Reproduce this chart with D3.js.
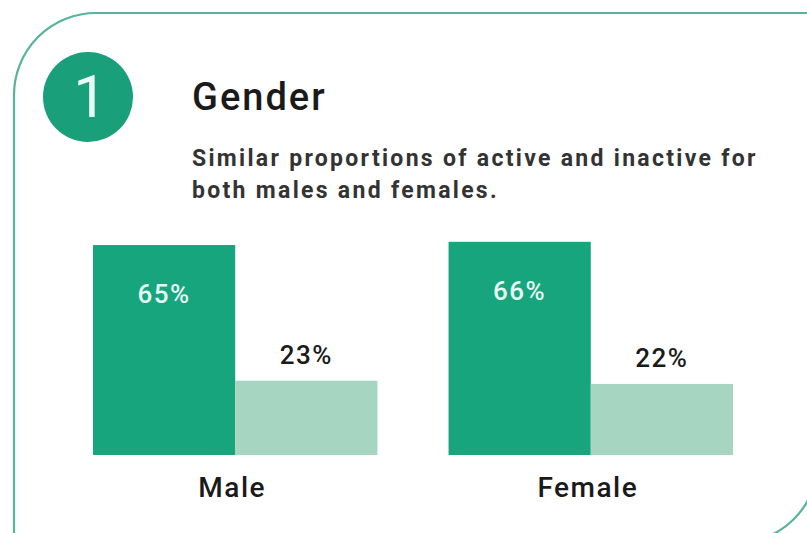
<!DOCTYPE html>
<meta charset="utf-8">
<style>
  body { margin: 0; background: #fff; }
  text { font-family: Roboto, "Noto Sans", sans-serif; }
</style>
<svg width="807" height="533"></svg>
<script src="https://d3js.org/d3.v7.min.js"></script>
<script>

var width = 807,
    height = 533;

var categories = ["Male", "Female"],
    series = ["Active", "Inactive"],
    active = [65, 66],
    inactive = [23, 22];

var svg = d3.select("svg");

// card outline: rounded top-left and bottom-right corners
var r = 82, x0 = 14, y0 = 13, x1 = 818, y1 = 543;
svg.append("path")
    .attr("d", "M" + (x0 + r) + "," + y0 + "H" + x1 + "V" + (y1 - r) +
      "A" + r + "," + r + " 0 0 1 " + (x1 - r) + "," + y1 + "H" + x0 +
      "V" + (y0 + r) + "A" + r + "," + r + " 0 0 1 " + (x0 + r) + "," + y0 + "Z")
    .attr("fill", "none")
    .attr("stroke", "#55b49a")
    .attr("stroke-width", 2.2);

svg.append("circle")
    .attr("cx", 88).attr("cy", 97).attr("r", 45)
    .attr("fill", "#19a07b");

svg.append("text")
    .attr("x", 90).attr("y", 117)
    .attr("text-anchor", "middle")
    .attr("fill", "#e8fbf5")
    .style("font-size", "60px")
    .style("font-weight", 400)
    .text("1");

svg.append("text")
    .attr("x", 192).attr("y", 110)
    .attr("fill", "#1a1a1a")
    .style("font-size", "38px")
    .style("font-weight", 500)
    .style("letter-spacing", "2px")
    .text("Gender");

var sub = ["Similar proportions of active and inactive for", "both males and females."];
svg.selectAll(".sub")
  .data(sub)
  .enter().append("text")
    .attr("class", "sub")
    .attr("x", 192)
    .attr("y", function(d, i) { return 166 + i * 32; })
    .attr("fill", "#333")
    .style("font-size", "23px")
    .style("font-weight", 700)
    .style("letter-spacing", "2.3px")
    .text(function(d) { return d; });

var xOuter = d3.scaleBand()
    .domain(categories)
    .range([93, 733])
    .paddingInner(0.2);

var xInner = d3.scaleBand()
    .domain(series)
    .range([0, xOuter.bandwidth()]);

var y = d3.scaleLinear()
    .domain([0, 100])
    .range([455, 132]);

var color = d3.scaleOrdinal()
    .domain(series)
    .range(["#17a57d", "#a6d6c1"]);

var rows = categories.map(function(c, i) {
  return { category: c, values: [
    { key: "Active", value: active[i] },
    { key: "Inactive", value: inactive[i] }
  ]};
});

var group = svg.selectAll(".group")
  .data(rows)
  .enter().append("g")
    .attr("class", "group")
    .attr("transform", function(d) { return "translate(" + xOuter(d.category) + ",0)"; });

group.selectAll("rect")
  .data(function(d) { return d.values; })
  .enter().append("rect")
    .attr("x", function(d) { return xInner(d.key); })
    .attr("y", function(d) { return y(d.value); })
    .attr("width", xInner.bandwidth())
    .attr("height", function(d) { return y(0) - y(d.value); })
    .attr("fill", function(d) { return color(d.key); });

group.selectAll(".val")
  .data(function(d) { return d.values; })
  .enter().append("text")
    .attr("class", "val")
    .attr("x", function(d) { return xInner(d.key) + xInner.bandwidth() / 2; })
    .attr("y", function(d) { return d.key === "Active" ? y(d.value) + 58 : y(d.value) - 17; })
    .attr("text-anchor", "middle")
    .attr("fill", function(d) { return d.key === "Active" ? "#e6fbf4" : "#1a1a1a"; })
    .style("font-size", "26px")
    .style("font-weight", 500)
    .style("letter-spacing", "1.5px")
    .text(function(d) { return d.value + "%"; });

group.append("text")
    .attr("x", xOuter.bandwidth() / 2 - 3)
    .attr("y", 497)
    .attr("text-anchor", "middle")
    .attr("fill", "#1a1a1a")
    .style("font-size", "28px")
    .style("font-weight", 500)
    .style("letter-spacing", "1.5px")
    .text(function(d) { return d.category; });

</script>
